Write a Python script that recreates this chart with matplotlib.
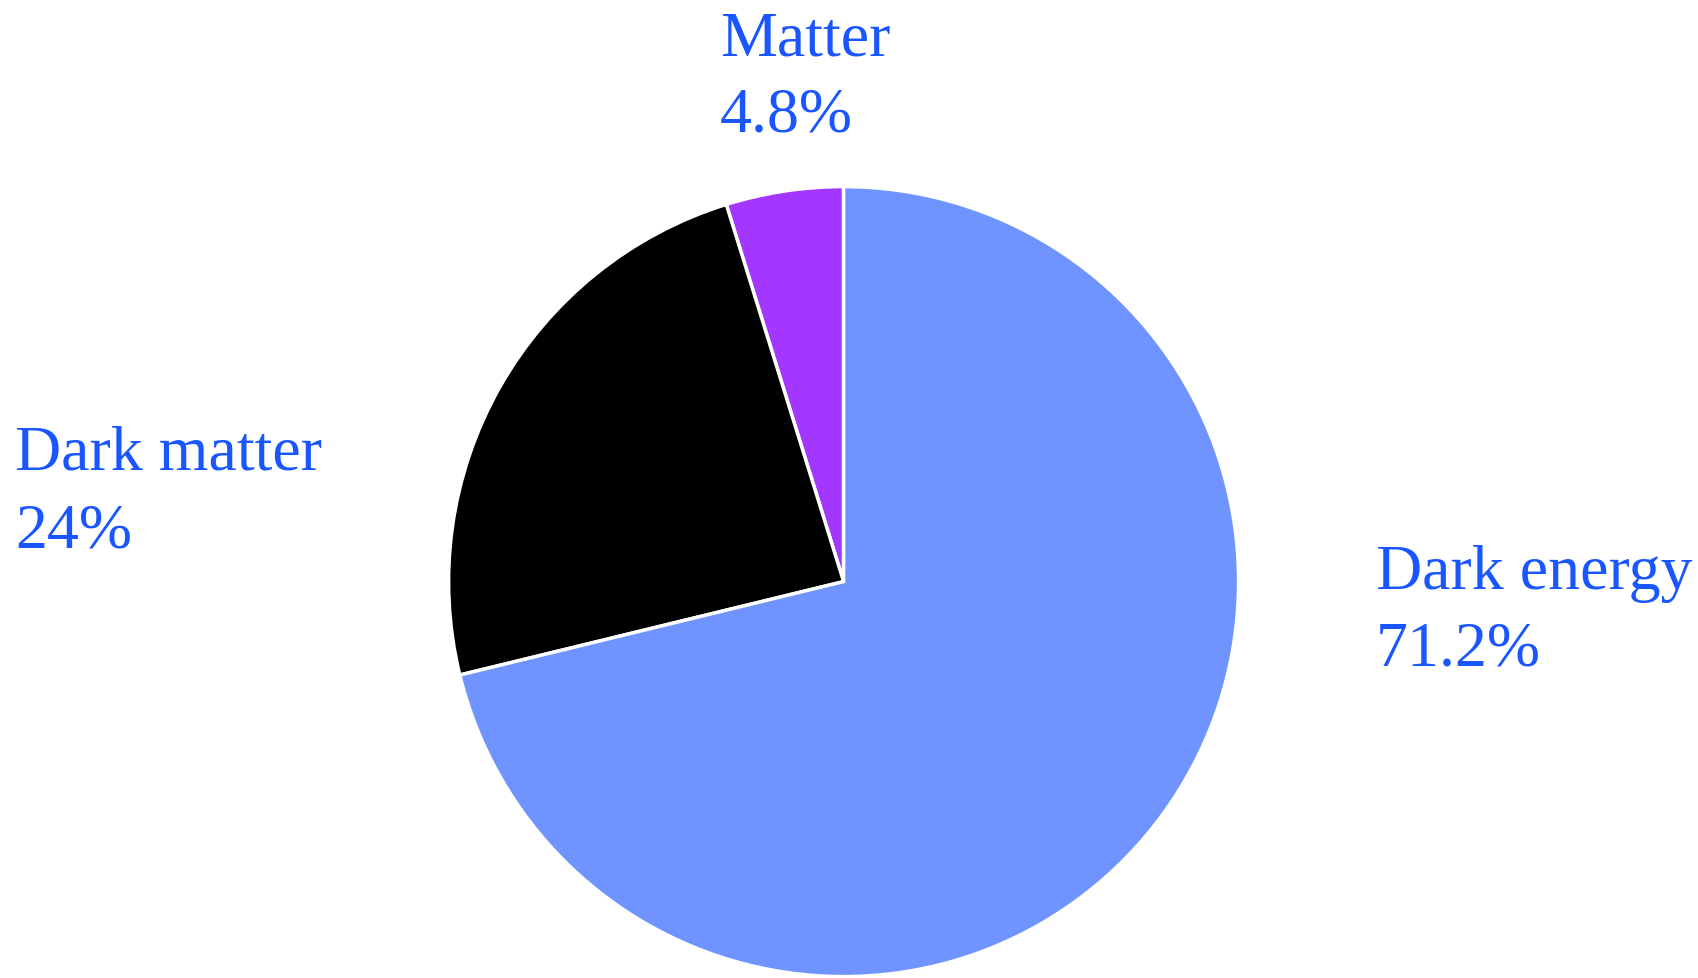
import matplotlib

matplotlib.use("Agg")
import matplotlib.pyplot as plt

names = ["Matter", "Dark matter", "Dark energy"]
shares = [4.8, 24.0, 71.2]
colors = ["#a336ff", "#000000", "#7094ff"]

TEXT_C = "#1a56ff"
W, H = 1698, 979
CX, CY, R = 843.6, 582.6, 395.0  # pixel coords, y from top

# label anchors (left x, baseline of first line), pixel coords from top
label_pos = {"Matter": (720, 55), "Dark matter": (15, 470), "Dark energy": (1376, 589)}
LINE_GAP = 77

plt.rcParams["font.family"] = ["Liberation Serif", "DejaVu Serif"]

fig = plt.figure(figsize=(W / 100, H / 100), dpi=100)
ax = fig.add_axes([(CX - R) / W, (H - CY - R) / H, 2 * R / W, 2 * R / H])
ax.pie(shares, colors=colors, startangle=90, counterclock=True, radius=1,
       wedgeprops=dict(edgecolor="white", linewidth=2.5))
ax.set_xlim(-1, 1); ax.set_ylim(-1, 1)
ax.set_aspect("equal")
ax.axis("off")

for name, val in zip(names, shares):
    x, y = label_pos[name]
    for i, s in enumerate([name, f"{val:g}%"]):
        fig.text(x / W, 1 - (y + i * LINE_GAP) / H, s, color=TEXT_C,
                 fontsize=46, ha="left", va="baseline")

fig.savefig("out.png", dpi=100)
